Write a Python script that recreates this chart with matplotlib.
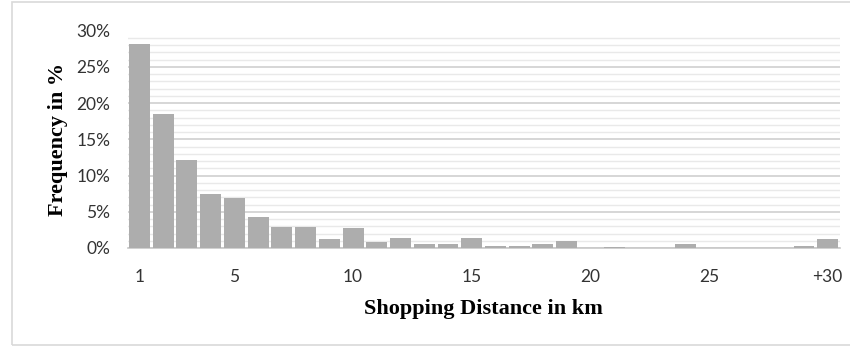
import matplotlib
matplotlib.use('Agg')
import matplotlib.pyplot as plt
import matplotlib.patches as patches
from matplotlib.ticker import MultipleLocator, FuncFormatter

# shopping distance classes 1..30 (last one is 30 km and more)
distance = list(range(1, 31))
freq = [28.2, 18.5, 12.1, 7.4, 6.9, 4.3, 2.9, 2.85, 1.3, 2.8,
        0.8, 1.4, 0.55, 0.6, 1.4, 0.3, 0.25, 0.5, 0.9, 0.05,
        0.1, 0.05, 0.05, 0.55, 0.03, 0.03, 0.03, 0.03, 0.25, 1.2]
tick_pos = [1, 5, 10, 15, 20, 25, 30]
tick_lab = ['1', '5', '10', '15', '20', '25', '+30']

fig = plt.figure(figsize=(8.5, 3.5), dpi=100)
# light outer frame like the spreadsheet chart area
fig.patches.append(patches.Rectangle((12 / 850, 5 / 350), 1.0, 343 / 350,
                                     transform=fig.transFigure, fill=False,
                                     ec='#d9d9d9', lw=1.2))

ax = fig.add_axes([127.6 / 850, 1 - 248 / 350, 712 / 850, 217.5 / 350])
ax.bar(distance, [v / 100 for v in freq], width=0.88, color='#adadad', zorder=3)

ax.set_xlim(0.5, 30.5)
ax.set_ylim(0, 0.30)
ax.yaxis.set_major_locator(MultipleLocator(0.05))
ax.yaxis.set_minor_locator(MultipleLocator(0.01))
ax.yaxis.set_major_formatter(FuncFormatter(lambda v, p: f'{v * 100:.0f}%'))
ax.grid(axis='y', which='major', color='#cfcfcf', lw=1.2, zorder=0)
ax.grid(axis='y', which='minor', color='#e9e9e9', lw=1.0, zorder=0)
ax.set_xticks(tick_pos)
ax.set_xticklabels(tick_lab)

for s in ['top', 'right', 'left']:
    ax.spines[s].set_visible(False)
ax.spines['bottom'].set_color('#c8c8c8')
ax.spines['bottom'].set_linewidth(1.2)
ax.tick_params(axis='both', which='both', length=0, labelsize=12.5, colors='#333333')
ax.tick_params(axis='x', pad=15)
ax.tick_params(axis='y', pad=12.5)
for lab in ax.get_xticklabels() + ax.get_yticklabels():
    lab.set_family('Lato')

ax.set_xlabel('Shopping Distance in km', family='Liberation Serif',
              fontweight='bold', fontsize=16, labelpad=10)
ax.set_ylabel('Frequency in %', family='Liberation Serif',
              fontweight='bold', fontsize=16, labelpad=6)

plt.savefig('out.png', dpi=100)
